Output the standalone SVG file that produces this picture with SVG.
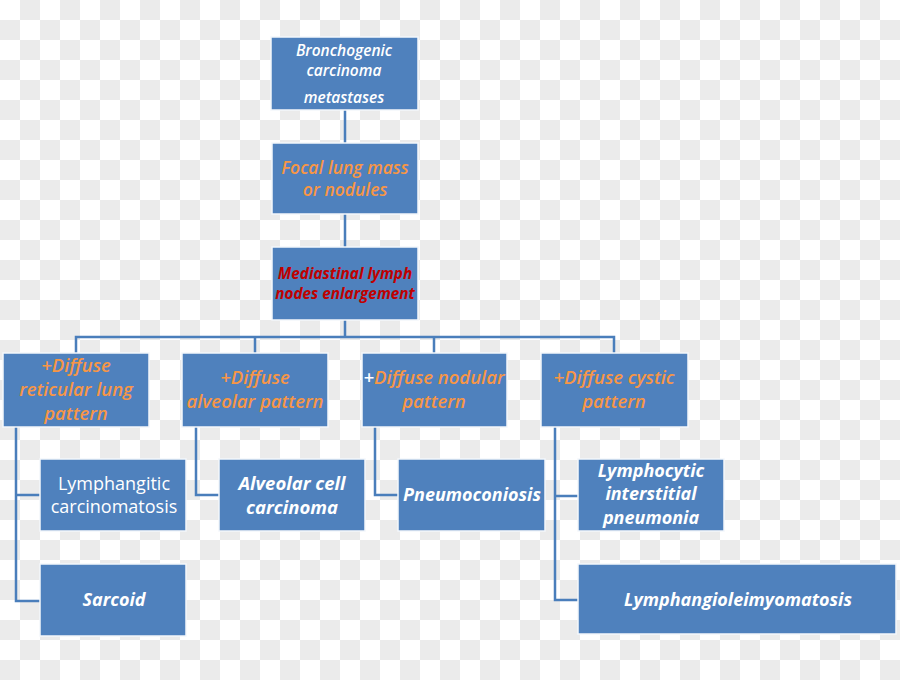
<svg xmlns="http://www.w3.org/2000/svg" width="900" height="680" viewBox="0 0 900 680">
<defs>
<pattern id="chk" x="0" y="0" width="40" height="40" patternUnits="userSpaceOnUse">
<rect width="40" height="40" fill="#ffffff"/>
<rect x="20" y="0" width="20" height="20" fill="#ebebeb"/>
<rect x="0" y="20" width="20" height="20" fill="#ebebeb"/>
</pattern>
</defs>
<style>
.box{fill:#4f81bd;stroke:#f4f7fb;stroke-width:1.5}
.con{fill:none;stroke:#4a7ebb;stroke-width:2.5}
text{font-family:"Open Sans","Liberation Sans",sans-serif;text-anchor:middle}
.w{fill:#ffffff}
.o{fill:#f79646}
.r{fill:#c00000}
.i{font-style:italic}
.s{font-weight:600}
.b{font-weight:bold}
</style>
<rect width="900" height="680" fill="url(#chk)"/>
<g id="connectors">
<path class="con" d="M345,110 V143 M345,214 V247 M345,320 V337 M76,353 V337 H614 V353 M255,337 V353 M434,337 V353"/>
<path class="con" d="M16,427 V601 H40 M16,495 H40"/>
<path class="con" d="M196,427 V495 H219"/>
<path class="con" d="M375,427 V495 H398"/>
<path class="con" d="M555,427 V600 H578 M555,496 H578"/>
</g>
<g id="n1"><rect class="box" x="271" y="37" width="147" height="73"/>
<text class="w i s" font-size="15.5"><tspan x="344" y="56">Bronchogenic</tspan><tspan x="344" y="76">carcinoma</tspan><tspan x="344" y="103">metastases</tspan></text></g>
<g id="n2"><rect class="box" x="272" y="143" width="146" height="71"/>
<text class="o i s" font-size="17.5"><tspan x="345" y="174">Focal lung mass</tspan><tspan x="345" y="196">or nodules</tspan></text></g>
<g id="n3"><rect class="box" x="272" y="247" width="146" height="73"/>
<text class="r i b" font-size="15.3"><tspan x="345" y="279">Mediastinal lymph</tspan><tspan x="345" y="299">nodes enlargement</tspan></text></g>
<g id="n4"><rect class="box" x="3" y="353" width="146" height="74"/>
<text class="o i s" font-size="18.5"><tspan x="76" y="372">+Diffuse</tspan><tspan x="76" y="396">reticular lung</tspan><tspan x="76" y="420">pattern</tspan></text></g>
<g id="n5"><rect class="box" x="182" y="353" width="146" height="74"/>
<text class="o i s" font-size="18.5"><tspan x="255" y="384">+Diffuse</tspan><tspan x="255" y="408">alveolar pattern</tspan></text></g>
<g id="n6"><rect class="box" x="362" y="353" width="145" height="74"/>
<text class="o i s" font-size="18.5"><tspan x="434" y="384"><tspan class="w">+</tspan>Diffuse nodular</tspan><tspan x="434" y="408">pattern</tspan></text></g>
<g id="n7"><rect class="box" x="541" y="353" width="147" height="74"/>
<text class="o i s" font-size="18.5"><tspan x="614" y="384">+Diffuse cystic</tspan><tspan x="614" y="408">pattern</tspan></text></g>
<g id="n8"><rect class="box" x="40" y="459" width="146" height="72"/>
<text class="w" font-size="18"><tspan x="114" y="490">Lymphangitic</tspan><tspan x="114" y="513">carcinomatosis</tspan></text></g>
<g id="n9"><rect class="box" x="40" y="564" width="146" height="72"/>
<text class="w i b" font-size="18" x="114" y="606">Sarcoid</text></g>
<g id="n10"><rect class="box" x="219" y="459" width="146" height="72"/>
<text class="w i b" font-size="18.5"><tspan x="292" y="490">Alveolar cell</tspan><tspan x="292" y="514">carcinoma</tspan></text></g>
<g id="n11"><rect class="box" x="398" y="459" width="147" height="72"/>
<text class="w i b" font-size="18" x="472" y="501">Pneumoconiosis</text></g>
<g id="n12"><rect class="box" x="578" y="459" width="146" height="72"/>
<text class="w i b" font-size="18"><tspan x="651" y="477">Lymphocytic</tspan><tspan x="651" y="500">interstitial</tspan><tspan x="651" y="524">pneumonia</tspan></text></g>
<g id="n13"><rect class="box" x="578" y="564" width="318" height="70"/>
<text class="w i b" font-size="18" x="738" y="606">Lymphangioleimyomatosis</text></g>
</svg>
